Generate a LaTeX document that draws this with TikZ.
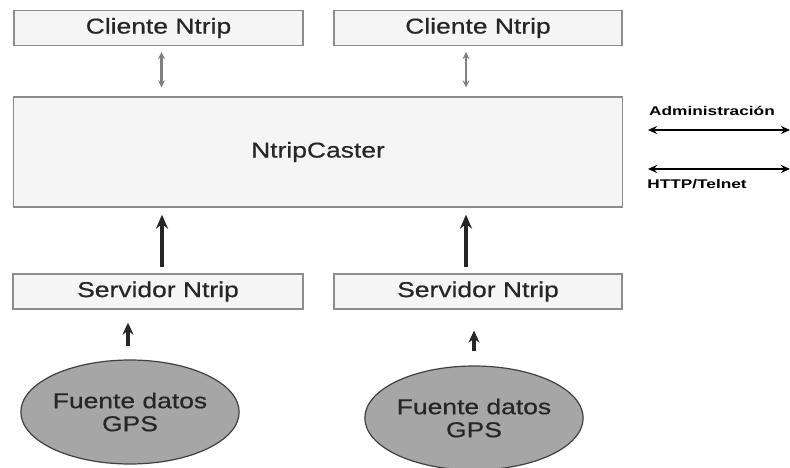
\documentclass[tikz,border=0pt]{standalone}
\usepackage{fontspec}
\setmainfont[FakeStretch=1.23,FakeBold=0.6]{Liberation Sans}
\newfontfamily\labelfont[FakeStretch=1.37]{Liberation Sans}
\usepackage{tikz}
\usetikzlibrary{shapes,arrows.meta}
\tikzset{box/.style={rectangle,draw=gray!90,fill=gray!8,line width=1.3pt,inner sep=0pt,font=\fontsize{21.5}{24}\selectfont,text=black!85},
  src/.style={ellipse,draw=black!75,fill=gray!70,line width=1.2pt,inner sep=0pt,minimum width=215pt,minimum height=104pt,align=center,font=\fontsize{21.5}{23}\selectfont,text=black!85},
  lbl/.style={font=\labelfont\bfseries\fontsize{12.6}{14}\selectfont}}

\begin{document}
\begin{tikzpicture}[x=1pt,y=-1pt]
    \useasboundingbox (0,0) rectangle (790,468);

    \node[box,minimum width=289pt,minimum height=35pt] (c1) at (158.5,28) {Cliente Ntrip};
    \node[box,minimum width=288pt,minimum height=35pt] (c2) at (478,28) {Cliente Ntrip};
    \node[box,minimum width=609pt,minimum height=110pt] (nc) at (318,152) {NtripCaster};
    \node[box,minimum width=290pt,minimum height=35pt] (s1) at (158,291.5) {Servidor Ntrip};
    \node[box,minimum width=288pt,minimum height=35pt] (s2) at (478,291.5) {Servidor Ntrip};
    \node[src] (g1) at (130,412) {Fuente datos\\GPS};
    \node[src] (g2) at (474,418) {Fuente datos\\GPS};

    \node[lbl] (adm) at (712,111) {Administración};
    \node[lbl] (http) at (697,184) {HTTP/Telnet};
    \coordinate (a1) at (648,130);
    \coordinate (a2) at (790,130);
    \coordinate (h1) at (648,169);
    \coordinate (h2) at (790,169);

    \draw [{Stealth[length=7pt,width=7pt]}-{Stealth[length=7pt,width=7pt]},gray,line width=2.5pt,shorten <=6pt,shorten >=9pt] ([xshift=3pt]c1.south) -- ([xshift=3pt]c1.south |- nc.north);
    \draw [{Stealth[length=7pt,width=7pt]}-{Stealth[length=7pt,width=7pt]},gray,line width=2.5pt,shorten <=6pt,shorten >=9pt] ([xshift=-12pt]c2.south) -- ([xshift=-12pt]c2.south |- nc.north);
    \draw [-{Stealth[length=14pt,width=12pt]},line width=3.2pt,black!85,shorten <=6pt,shorten >=7pt] ([xshift=4pt]s1.north) -- ([xshift=4pt]s1.north |- nc.south);
    \draw [-{Stealth[length=14pt,width=12pt]},line width=3.2pt,black!85,shorten <=6pt,shorten >=7pt] ([xshift=-12pt]s2.north) -- ([xshift=-12pt]s2.north |- nc.south);
    \draw [-{Stealth[length=12pt,width=11pt]},line width=3.2pt,black!85,shorten <=13pt,shorten >=13pt] ([xshift=-2pt]g1.north) -- ([xshift=-2pt]g1.north |- s1.south);
    \draw [-{Stealth[length=12pt,width=11pt]},line width=3.2pt,black!85,shorten <=14pt,shorten >=21pt] (g2.north) -- (g2.north |- s2.south);
    \draw [{Stealth[length=9pt,width=8pt]}-{Stealth[length=9pt,width=8pt]},line width=2.4pt] (a1) -- (a2);
    \draw [{Stealth[length=9pt,width=8pt]}-{Stealth[length=9pt,width=8pt]},line width=2.4pt] (h1) -- (h2);
\end{tikzpicture}
\end{document}
